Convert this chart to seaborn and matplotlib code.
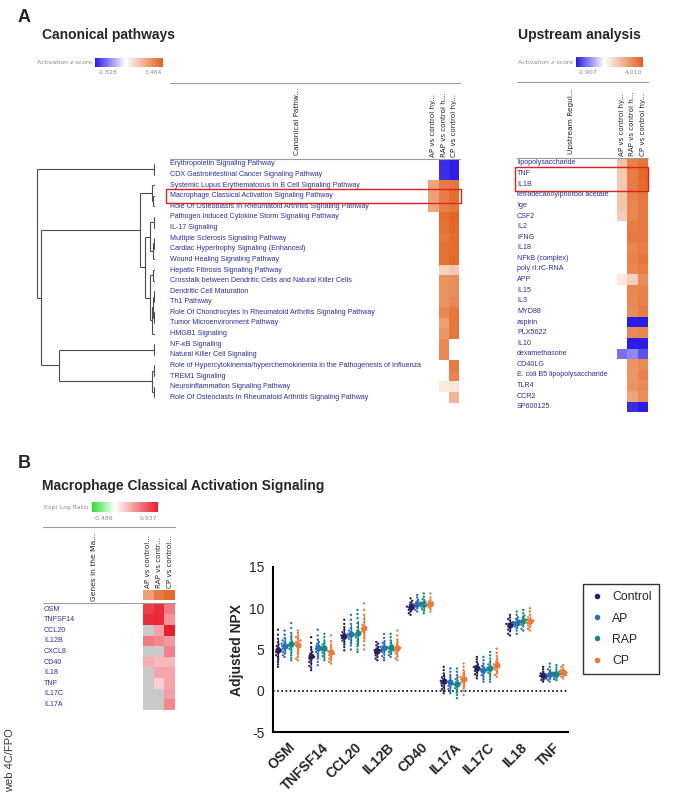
import numpy as np
import pandas as pd
import matplotlib
matplotlib.use('Agg')
import matplotlib.pyplot as plt
import seaborn as sns
from matplotlib.colors import LinearSegmentedColormap, TwoSlopeNorm
from matplotlib.lines import Line2D
from matplotlib.patches import Rectangle
from matplotlib.transforms import blended_transform_factory

nan = np.nan

# --- Panel A: canonical pathways (activation z-score) ---
CANON_PATHWAYS = [
    'Erythropoietin Signaling Pathway',
    'CDX Gastrointestinal Cancer Signaling Pathway',
    'Systemic Lupus Erythematosus In B Cell Signaling Pathway',
    'Macrophage Classical Activation Signaling Pathway',
    'Role Of Osteoblasts In Rheumatoid Arthritis Signaling Pathway',
    'Pathogen Induced Cytokine Storm Signaling Pathway',
    'IL-17 Signaling',
    'Multiple Sclerosis Signaling Pathway',
    'Cardiac Hypertrophy Signaling (Enhanced)',
    'Wound Healing Signaling Pathway',
    'Hepatic Fibrosis Signaling Pathway',
    'Crosstalk between Dendritic Cells and Natural Killer Cells',
    'Dendritic Cell Maturation',
    'Th1 Pathway',
    'Role Of Chondrocytes In Rheumatoid Arthritis Signaling Pathway',
    'Tumor Microenvironment Pathway',
    'HMGB1 Signaling',
    'NF-κB Signaling',
    'Natural Killer Cell Signaling',
    'Role of Hypercytokinemia/hyperchemokinemia in the Pathogenesis of Influenza',
    'TREM1 Signaling',
    'Neuroinflammation Signaling Pathway',
    'Role Of Osteoclasts In Rheumatoid Arthritis Signaling Pathway',
]
CANON_AP = [nan, nan, 2.0, 2.1, 2.0, nan, nan, nan, nan, nan, nan, nan,
            nan, nan, nan, nan, nan, nan, nan, nan, nan, nan, nan]
CANON_RAP = [-2.6, -2.6, 2.9, 2.9, 2.8, 3.2, 3.1, 3.0, 3.1, 3.1, 1.0, 2.4,
             2.4, 2.4, 2.6, 2.1, 2.3, 2.6, 2.6, nan, nan, 0.5, nan]
CANON_CP = [-2.8, -2.8, 3.0, 3.2, 3.0, 3.4, 3.3, 3.2, 3.2, 3.3, 1.2, 2.5,
            2.5, 2.6, 3.0, 3.0, 3.0, nan, nan, 2.9, 2.7, 0.6, 1.6]
CANON_RANGE = (-2.828, 3.464)
# cluster merges (child, child, height) in scipy style, leaves = rows
CANON_MERGES = [
    (0, 1, 1), (3, 4, 2), (2, 24, 3), (5, 6, 1), (7, 8, 1), (27, 9, 2),
    (26, 28, 5), (10, 11, 2), (12, 13, 1), (14, 15, 1), (31, 32, 2),
    (33, 16, 3), (30, 34, 5), (29, 35, 10), (25, 36, 15), (17, 18, 1),
    (19, 20, 1), (21, 22, 1), (39, 40, 3), (38, 41, 96), (37, 42, 114),
    (23, 43, 118),
]

# --- Panel A: upstream regulators ---
UPSTREAM = [
    'lipopolysaccharide', 'TNF', 'IL1B', 'tetradecanoylphorbol acetate', 'Ige',
    'CSF2', 'IL2', 'IFNG', 'IL18', 'NFkB (complex)', 'poly rI:rC-RNA', 'APP',
    'IL15', 'IL3', 'MYD88', 'aspirin', 'PLX5622', 'IL10', 'dexamethasone',
    'CD40LG', 'E. coli B5 lipopolysaccharide', 'TLR4', 'CCR2', 'SP600125',
]
UP_AP = [1.6, 1.4, 1.4, 1.5, 1.5, 1.3, nan, nan, nan, nan, nan, 0.6,
         nan, nan, nan, nan, nan, nan, -1.8, nan, nan, nan, nan, nan]
UP_RAP = [3.2, 3.3, 3.3, 3.2, 3.1, 3.1, 3.3, 3.4, 3.1, 3.2, 3.1, 1.2,
          3.1, 3.0, 2.9, -2.9, 3.0, -2.9, -1.5, 2.7, 2.7, 2.7, 2.3, -2.7]
UP_CP = [3.5, 3.8, 3.7, 3.5, 3.4, 3.4, 3.4, 3.4, 3.3, 3.5, 3.3, 2.9,
         3.2, 3.2, 3.3, -2.9, 3.1, -2.9, -2.2, 3.0, 3.2, 3.0, 2.9, -2.9]
UP_RANGE = (-2.907, 4.010)

# --- Panel B: genes in the macrophage pathway (expr log ratio) ---
PATH_GENES = ['OSM', 'TNFSF14', 'CCL20', 'IL12B', 'CXCL8', 'CD40', 'IL18',
              'TNF', 'IL17C', 'IL17A']
GENE_AP = [0.80, 0.88, nan, 0.55, nan, 0.35, nan, nan, nan, nan]
GENE_RAP = [0.88, 0.90, 0.40, 0.50, nan, 0.30, 0.38, 0.20, nan, nan]
GENE_CP = [0.55, 0.45, 0.93, 0.42, 0.52, 0.30, 0.38, 0.38, 0.40, 0.50]
GENE_RANGE = (-0.489, 0.937)

CANON_COLS = ['AP vs control hy...', 'RAP vs control h...', 'CP vs control hy...']
GENE_COLS = ['AP vs control...', 'RAP vs contr...', 'CP vs control...']

# --- Panel B: Olink NPX per group ---
GENES = ['OSM', 'TNFSF14', 'CCL20', 'IL12B', 'CD40', 'IL17A', 'IL17C', 'IL18', 'TNF']
GROUPS = ['Control', 'AP', 'RAP', 'CP']
OSM = {
    'Control': [7.4, 6.8, 6.3, 5.9, 5.6, 5.4, 5.2, 5.0, 4.9, 4.8, 4.7, 4.5, 4.3, 4.1, 3.8, 3.5, 3.2, 2.9],
    'AP': [7.3, 6.8, 6.4, 6.1, 5.9, 5.7, 5.6, 5.5, 5.5, 5.4, 5.3, 5.1, 4.9, 4.7, 4.5, 4.3, 4.1],
    'RAP': [8.2, 7.6, 7.0, 6.6, 6.3, 6.0, 5.8, 5.7, 5.6, 5.5, 5.3, 5.1, 4.9, 4.6, 4.3, 4.0, 3.7],
    'CP': [7.3, 7.0, 6.7, 6.5, 6.3, 6.1, 6.0, 5.9, 5.7, 5.5, 5.3, 5.0, 4.7, 4.4, 4.1, 3.9, 3.7],
}
TNFSF14 = {
    'Control': [6.5, 5.8, 5.3, 5.0, 4.7, 4.5, 4.3, 4.2, 4.1, 4.0, 3.9, 3.7, 3.5, 3.3, 3.0, 2.8, 2.5],
    'AP': [7.4, 6.7, 6.2, 5.9, 5.7, 5.5, 5.4, 5.3, 5.2, 5.1, 4.9, 4.7, 4.5, 4.2, 3.9, 3.5, 3.1],
    'RAP': [6.9, 6.5, 6.1, 5.8, 5.6, 5.4, 5.2, 5.1, 5.0, 4.9, 4.8, 4.6, 4.4, 4.2, 4.0, 3.7],
    'CP': [6.7, 6.0, 5.6, 5.3, 5.0, 4.8, 4.7, 4.6, 4.5, 4.4, 4.3, 4.1, 3.9, 3.7, 3.5, 3.3],
}
CCL20 = {
    'Control': [8.6, 8.1, 7.7, 7.4, 7.1, 6.9, 6.7, 6.6, 6.5, 6.4, 6.3, 6.1, 5.9, 5.6, 5.3, 4.9],
    'AP': [9.2, 8.6, 8.1, 7.6, 7.3, 7.1, 6.9, 6.8, 6.7, 6.6, 6.5, 6.3, 6.1, 5.8, 5.5, 5.0],
    'RAP': [9.8, 9.3, 8.8, 8.2, 7.7, 7.3, 7.0, 6.9, 6.8, 6.7, 6.5, 6.3, 6.0, 5.7, 5.4, 5.0, 4.7],
    'CP': [10.6, 9.8, 9.2, 8.7, 8.3, 8.0, 7.8, 7.6, 7.5, 7.4, 7.2, 7.0, 6.7, 6.4, 6.0, 5.5, 5.0],
}
IL12B = {
    'Control': [5.9, 5.7, 5.5, 5.3, 5.1, 5.0, 4.9, 4.9, 4.8, 4.7, 4.6, 4.5, 4.3, 4.1, 3.9, 3.7],
    'AP': [6.9, 6.4, 6.0, 5.8, 5.6, 5.4, 5.3, 5.3, 5.2, 5.1, 4.9, 4.7, 4.5, 4.2, 4.0, 3.7],
    'RAP': [6.9, 6.5, 6.1, 5.8, 5.5, 5.3, 5.2, 5.1, 5.0, 4.9, 4.8, 4.7, 4.5, 4.3, 4.1],
    'CP': [7.3, 6.7, 6.2, 5.9, 5.6, 5.4, 5.3, 5.2, 5.1, 5.0, 4.8, 4.6, 4.4, 4.1, 3.9, 3.7],
}
CD40 = {
    'Control': [11.2, 10.9, 10.7, 10.5, 10.4, 10.3, 10.2, 10.2, 10.1, 10.0, 9.9, 9.8, 9.6, 9.4, 9.2],
    'AP': [11.6, 11.3, 11.0, 10.8, 10.7, 10.6, 10.5, 10.5, 10.4, 10.3, 10.2, 10.0, 9.8, 9.6],
    'RAP': [11.8, 11.4, 11.1, 10.9, 10.7, 10.6, 10.5, 10.4, 10.3, 10.2, 10.1, 9.9, 9.7, 9.4],
    'CP': [11.8, 11.3, 11.0, 10.8, 10.7, 10.6, 10.5, 10.4, 10.4, 10.3, 10.1, 9.9, 9.6],
}
IL17A = {
    'Control': [2.9, 2.5, 2.1, 1.8, 1.6, 1.4, 1.2, 1.1, 1.0, 0.9, 0.8, 0.6, 0.4, 0.2, 0.0, -0.3],
    'AP': [2.7, 2.3, 1.9, 1.6, 1.3, 1.1, 1.0, 0.9, 0.8, 0.7, 0.6, 0.4, 0.2, 0.0, -0.3],
    'RAP': [2.7, 2.3, 1.9, 1.6, 1.4, 1.2, 1.0, 0.9, 0.8, 0.7, 0.5, 0.3, 0.1, -0.2, -0.5, -0.9],
    'CP': [3.3, 2.9, 2.5, 2.2, 1.9, 1.7, 1.6, 1.5, 1.4, 1.3, 1.1, 0.9, 0.6, 0.3, 0.0, -0.5],
}
IL17C = {
    'Control': [4.1, 3.8, 3.5, 3.2, 3.0, 2.9, 2.8, 2.7, 2.6, 2.5, 2.4, 2.2, 2.0, 1.8, 1.5],
    'AP': [4.1, 3.7, 3.3, 3.0, 2.8, 2.6, 2.5, 2.5, 2.4, 2.3, 2.1, 1.9, 1.7, 1.4, 1.1],
    'RAP': [4.7, 4.3, 3.9, 3.5, 3.2, 3.0, 2.8, 2.7, 2.6, 2.5, 2.4, 2.2, 2.0, 1.7, 1.4, 1.1],
    'CP': [5.1, 4.6, 4.2, 3.8, 3.5, 3.3, 3.2, 3.1, 3.0, 2.9, 2.8, 2.6, 2.4, 2.1, 1.9, 1.7],
}
IL18 = {
    'Control': [9.2, 8.9, 8.7, 8.5, 8.3, 8.2, 8.1, 8.1, 8.0, 7.9, 7.8, 7.6, 7.4, 7.2, 6.9, 6.7],
    'AP': [9.6, 9.2, 8.9, 8.7, 8.5, 8.4, 8.3, 8.3, 8.2, 8.1, 8.0, 7.8, 7.6, 7.3, 6.9],
    'RAP': [9.8, 9.4, 9.1, 8.9, 8.7, 8.6, 8.5, 8.5, 8.4, 8.3, 8.2, 8.0, 7.8, 7.5, 7.3],
    'CP': [10.0, 9.6, 9.2, 8.9, 8.7, 8.5, 8.4, 8.4, 8.3, 8.2, 8.1, 7.9, 7.7, 7.5, 7.3],
}
TNF = {
    'Control': [2.9, 2.6, 2.3, 2.1, 2.0, 1.9, 1.8, 1.8, 1.7, 1.6, 1.5, 1.4, 1.3, 1.1],
    'AP': [3.3, 2.9, 2.6, 2.4, 2.2, 2.1, 2.0, 2.0, 1.9, 1.8, 1.7, 1.5, 1.3, 1.1],
    'RAP': [3.1, 2.8, 2.5, 2.3, 2.2, 2.1, 2.0, 2.0, 1.9, 1.8, 1.7, 1.6, 1.4, 1.3],
    'CP': [3.1, 2.9, 2.7, 2.5, 2.4, 2.3, 2.2, 2.2, 2.1, 2.0, 1.9, 1.8, 1.7, 1.5],
}
NPX = [OSM, TNFSF14, CCL20, IL12B, CD40, IL17A, IL17C, IL18, TNF]
PALETTE = ['#2c1f5c', '#2a6fba', '#158a82', '#ea7a3a']

# --- styling ---
W, H = 682, 796
ROW = 10.6
LABEL_C = '#2e2e99'
ZCMAP = LinearSegmentedColormap.from_list('z', ['#2a1ce6', '#ffffff', '#e2621e'])
ECMAP = LinearSegmentedColormap.from_list('e', ['#2edc3a', '#ffffff', '#e8202c'])

sns.set_style('white')
plt.rcParams['font.family'] = ['Liberation Sans', 'DejaVu Sans']
plt.rcParams['axes.unicode_minus'] = False

fig = plt.figure(figsize=(W / 100, H / 100), dpi=100)


def fx(x):
    return x / W


def fy(y):
    return 1 - y / H


def px_axes(x0, y0, x1, y1):
    return fig.add_axes([fx(x0), fy(y1), (x1 - x0) / W, (y1 - y0) / H])


def hline(x0, x1, y, color='#9a9a9a', lw=0.8):
    fig.add_artist(Line2D([fx(x0), fx(x1)], [fy(y), fy(y)], color=color, lw=lw))


def heat(ax, cols, rows, values, norm, cmap, label_px, heat_px, nan_color='white',
         top_labels=None, show_rows=True):
    df = pd.DataFrame(dict(zip(cols, values)), index=rows)
    sns.heatmap(df, ax=ax, cmap=cmap, norm=norm, cbar=False,
                xticklabels=top_labels if top_labels else False,
                yticklabels=rows if show_rows else False)
    ax.set_facecolor(nan_color)
    ax.set_xlabel('')
    ax.set_ylabel('')
    if show_rows:
        ax.tick_params(axis='y', length=0, pad=(heat_px - label_px) * 0.72,
                       labelsize=5.1, labelcolor=LABEL_C)
        for t in ax.get_yticklabels():
            t.set_ha('left')
            t.set_rotation(0)
    if top_labels:
        ax.xaxis.tick_top()
        ax.tick_params(axis='x', length=0, pad=1.5, labelsize=5.1,
                       labelcolor='#222222', labelrotation=90)
        for t in ax.get_xticklabels():
            t.set_fontfamily('DejaVu Sans')


def scale_bar(x0, x1, y0, y1, rng, norm, cmap, title, lab_left, lab_right):
    ax = px_axes(x0, y0, x1, y1)
    grad = np.linspace(rng[0], rng[1], 256)[None, :]
    ax.imshow(grad, aspect='auto', cmap=cmap, norm=norm)
    ax.set_axis_off()
    fig.text(fx(x0 - 3), fy((y0 + y1) / 2), title, ha='right', va='center',
             fontsize=4.4, color='#8a8a8a', family='DejaVu Sans')
    fig.text(fx(lab_left), fy(y1 + 6), f'{rng[0]:.3f}', ha='right', va='center',
             fontsize=4.4, color='#8a8a8a', family='DejaVu Sans')
    fig.text(fx(lab_right), fy(y1 + 6), f'{rng[1]:.3f}', ha='right', va='center',
             fontsize=4.4, color='#8a8a8a', family='DejaVu Sans')


def dendrogram(ax, merges, n):
    ypos = {i: i + 0.5 for i in range(n)}
    xpos = {i: 0.0 for i in range(n)}
    kw = dict(color='#4a4a5a', lw=0.8, solid_capstyle='butt')
    for k, (a, b, h) in enumerate(merges):
        for c in (a, b):
            ax.plot([xpos[c], h], [ypos[c], ypos[c]], **kw)
        ax.plot([h, h], [ypos[a], ypos[b]], **kw)
        ypos[n + k] = (ypos[a] + ypos[b]) / 2
        xpos[n + k] = h


def box_rows(ax, row0, nrows, x_left_px, x_right_px, heat_left_px, heat_right_px):
    tr = blended_transform_factory(ax.transAxes, ax.transData)
    w = heat_right_px - heat_left_px
    xa = (x_left_px - heat_left_px) / w
    xb = (x_right_px - heat_left_px) / w
    ax.add_patch(Rectangle((xa, row0), xb - xa, nrows, transform=tr,
                           fill=False, ec='#e02020', lw=1.0, clip_on=False))


# ---------------- Panel A ----------------
fig.text(fx(18), fy(18), 'A', fontsize=13, fontweight='bold', va='center')
fig.text(fx(42), fy(35), 'Canonical pathways', fontsize=10, fontweight='bold', va='center')
fig.text(fx(518), fy(35), 'Upstream analysis', fontsize=10, fontweight='bold', va='center')

cnorm = TwoSlopeNorm(vmin=CANON_RANGE[0], vcenter=0, vmax=CANON_RANGE[1])
unorm = TwoSlopeNorm(vmin=UP_RANGE[0], vcenter=0, vmax=UP_RANGE[1])
gnorm = TwoSlopeNorm(vmin=GENE_RANGE[0], vcenter=0, vmax=GENE_RANGE[1])

scale_bar(95, 162, 58, 67, CANON_RANGE, cnorm, ZCMAP, 'Activation z-score', 117, 162)
scale_bar(576, 643, 57, 67, UP_RANGE, unorm, ZCMAP, 'Activation z-score', 597, 642)

# canonical heatmap
c_top = 158.7
c_bot = c_top + ROW * len(CANON_PATHWAYS)
ax_c = px_axes(428, c_top, 459.5, c_bot)
heat(ax_c, GROUPS[1:], CANON_PATHWAYS, [CANON_AP, CANON_RAP, CANON_CP], cnorm, ZCMAP,
     170, 428, top_labels=CANON_COLS)
hline(170, 460, 83)
hline(170, 460, c_top)
fig.text(fx(297), fy(c_top - 4), 'Canonical Pathw...', rotation=90, ha='center', va='bottom',
         fontsize=5.3, color='#222222', family='DejaVu Sans')
box_rows(ax_c, CANON_PATHWAYS.index('Macrophage Classical Activation Signaling Pathway') - 0.15,
         1.3, 166, 461, 428, 459.5)

ax_d = px_axes(35, c_top, 155, c_bot)
dendrogram(ax_d, CANON_MERGES, len(CANON_PATHWAYS))
ax_d.set_xlim(120, 0)
ax_d.set_ylim(len(CANON_PATHWAYS), 0)
ax_d.set_axis_off()

# upstream heatmap
u_top = 157.7
u_bot = u_top + ROW * len(UPSTREAM)
ax_u = px_axes(617, u_top, 648, u_bot)
heat(ax_u, GROUPS[1:], UPSTREAM, [UP_AP, UP_RAP, UP_CP], unorm, ZCMAP, 517, 617,
     top_labels=CANON_COLS)
hline(517, 648, 82)
hline(517, 648, u_top)
fig.text(fx(571), fy(u_top - 4), 'Upstream Regul...', rotation=90, ha='center', va='bottom',
         fontsize=5.3, color='#222222', family='DejaVu Sans')
box_rows(ax_u, UPSTREAM.index('TNF') - 0.1, 2.2, 515, 648, 617, 648)

# ---------------- Panel B ----------------
fig.text(fx(18), fy(463), 'B', fontsize=13, fontweight='bold', va='center')
fig.text(fx(42), fy(486), 'Macrophage Classical Activation Signaling', fontsize=10,
         fontweight='bold', va='center')
scale_bar(92, 158, 502, 512, GENE_RANGE, gnorm, ECMAP, 'Expr Log Ratio', 113, 157)
hline(43, 175, 527)

# pathway z-score strip with column headers
z_idx = CANON_PATHWAYS.index('Macrophage Classical Activation Signaling Pathway')
ax_z = px_axes(143, 590, 175, 600)
heat(ax_z, GROUPS[1:], ['z'], [[CANON_AP[z_idx]], [CANON_RAP[z_idx]], [CANON_CP[z_idx]]],
     cnorm, ZCMAP, 0, 0, top_labels=GENE_COLS, show_rows=False)
fig.text(fx(94), fy(601), 'Genes in the Ma...', rotation=90, ha='center', va='bottom',
         fontsize=5.4, color='#222222', family='DejaVu Sans')
hline(43, 175, 603)

g_top = 603.7
g_bot = g_top + ROW * len(PATH_GENES)
ax_g = px_axes(143, g_top, 175, g_bot)
heat(ax_g, GROUPS[1:], PATH_GENES, [GENE_AP, GENE_RAP, GENE_CP], gnorm, ECMAP, 44, 143,
     nan_color='#c9c9c9')

fig.text(fx(10), fy(760), 'web 4C/FPO', rotation=90, ha='center', va='center',
         fontsize=8, color='#3a3a3a')

# NPX swarm plot with mean +/- SD
records = []
for gene, vals in zip(GENES, NPX):
    for grp in GROUPS:
        for v in vals[grp]:
            records.append({'Gene': gene, 'Group': grp, 'NPX': v})
df = pd.DataFrame(records)

ax = px_axes(273, 567, 568, 732)
sns.swarmplot(data=df, x='Gene', y='NPX', hue='Group', order=GENES, hue_order=GROUPS,
              palette=PALETTE, dodge=True, size=1.7, ax=ax, legend=False)
sns.pointplot(data=df, x='Gene', y='NPX', hue='Group', order=GENES, hue_order=GROUPS,
              palette=PALETTE, dodge=0.6, errorbar='sd', markers='o', linestyle='none',
              markersize=2.3, err_kws={'linewidth': 0.9}, ax=ax, legend=False)
ax.axhline(0, color='black', ls=(0, (1, 1.5)), lw=1.2, zorder=0)
ax.set_ylim(-5, 15)
ax.set_xlim(-0.45, len(GENES) - 0.55)
ax.set_yticks([-5, 0, 5, 10, 15])
ax.set_xlabel('')
ax.set_ylabel('Adjusted NPX', fontsize=10, fontweight='bold', labelpad=4)
for s in ['top', 'right']:
    ax.spines[s].set_visible(False)
for s in ['left', 'bottom']:
    ax.spines[s].set_linewidth(1.5)
    ax.spines[s].set_color('black')
ax.tick_params(axis='both', length=4, width=1.5, color='black', labelsize=10, pad=2)
ax.tick_params(axis='x', direction='out')
ax.set_xticks(range(len(GENES)))
ax.set_xticklabels(GENES, rotation=45, ha='right', rotation_mode='anchor', fontweight='bold')

handles = [Line2D([], [], marker='o', ls='', color=c, markersize=3) for c in PALETTE]
leg = fig.legend(handles, GROUPS, loc='upper left', bbox_to_anchor=(fx(583), fy(584)),
                 frameon=True, fancybox=False, edgecolor='black', fontsize=8.8,
                 handletextpad=0.7, labelspacing=0.75, borderpad=0.6, handlelength=1.1,
                 borderaxespad=0)
leg.get_frame().set_linewidth(1.0)

fig.savefig('out.png', dpi=100)
